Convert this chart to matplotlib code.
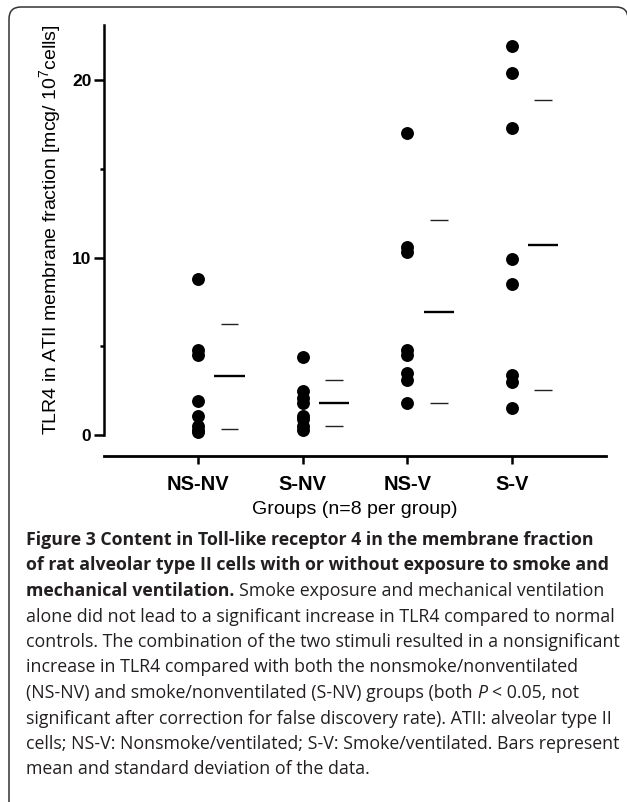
"""TLR4 in ATII membrane fraction - dot plot with mean and SD bars"""

import matplotlib.pyplot as plt
import numpy as np
from matplotlib.patches import FancyBboxPatch
from matplotlib.ticker import MultipleLocator

plt.rcParams['font.family'] = ['Liberation Sans', 'DejaVu Sans']
plt.rcParams['mathtext.fontset'] = 'custom'
plt.rcParams['mathtext.rm'] = 'Liberation Sans'
plt.rcParams['mathtext.default'] = 'regular'

# data
groups = ["NS-NV", "S-NV", "NS-V", "S-V"]
ns_nv = [8.8, 4.8, 4.5, 1.9, 1.1, 0.5, 0.3, 0.2]
s_nv = [4.4, 2.5, 2.1, 1.8, 1.1, 0.9, 0.5, 0.3]
ns_v = [17.0, 10.6, 10.3, 4.8, 4.5, 3.5, 3.1, 1.8]
s_v = [21.9, 20.4, 17.3, 9.9, 8.5, 3.4, 3.0, 1.5]
means = [3.3, 1.8, 6.95, 10.7]
sds = [2.95, 1.3, 5.15, 8.15]

caption = [
    [("Figure 3 Content in Toll-like receptor 4 in the membrane fraction", "bold", "normal")],
    [("of rat alveolar type II cells with or without exposure to smoke and", "bold", "normal")],
    [("mechanical ventilation.", "bold", "normal"),
     ("Smoke exposure and mechanical ventilation", "normal", "normal")],
    [("alone did not lead to a significant increase in TLR4 compared to normal", "normal", "normal")],
    [("controls. The combination of the two stimuli resulted in a nonsignificant", "normal", "normal")],
    [("increase in TLR4 compared with both the nonsmoke/nonventilated", "normal", "normal")],
    [("(NS-NV) and smoke/nonventilated (S-NV) groups (both", "normal", "normal"),
     ("P", "normal", "italic"),
     ("< 0.05, not", "normal", "normal")],
    [("significant after correction for false discovery rate). ATII: alveolar type II", "normal", "normal")],
    [("cells; NS-V: Nonsmoke/ventilated; S-V: Smoke/ventilated. Bars represent", "normal", "normal")],
    [("mean and standard deviation of the data.", "normal", "normal")],
]

W, H = 627, 802
fig = plt.figure(figsize=(W / 100, H / 100), dpi=100)

# rounded frame (only top and left edges are visible)
frame = FancyBboxPatch((0.09, -0.5), 6.27 - 0.08, 8.02 - 0.07 + 0.5,
                       boxstyle="round,pad=0,rounding_size=0.12",
                       transform=fig.dpi_scale_trans, fill=False,
                       edgecolor="#333333", linewidth=1.1)
fig.add_artist(frame)

ax = fig.add_axes([104 / W, 1 - 456 / H, (606 - 104) / W, (456 - 25) / H])
ax.set_xlim(0.1, 4.9)
ax.set_ylim(-1.18, 23.1)

for i, vals in enumerate([ns_nv, s_nv, ns_v, s_v]):
    x = i + 1
    ax.plot(np.full(len(vals), x), vals, "o", color="black", ms=9.3, mew=0)
    xm = x + 0.3
    ax.hlines(means[i], xm - 0.145, xm + 0.145, color="black", lw=1.7)
    ax.hlines([means[i] + sds[i], means[i] - sds[i]], xm - 0.085, xm + 0.085,
              color="#222222", lw=1.0)

ax.spines["top"].set_visible(False)
ax.spines["right"].set_visible(False)
ax.spines["left"].set_bounds(0, 23.1)
ax.spines["left"].set_linewidth(1.8)
ax.spines["bottom"].set_linewidth(2.0)

ax.set_yticks([0, 10, 20])
ax.yaxis.set_minor_locator(MultipleLocator(5))
ax.tick_params(axis="y", which="major", length=7, width=1.8, pad=2, labelsize=12.5)
ax.tick_params(axis="y", which="minor", length=3, width=1.8)
for lab in ax.get_yticklabels():
    lab.set_fontweight("bold")

ax.set_xticks([1, 2, 3, 4])
ax.set_xticklabels(groups, fontweight="bold", fontsize=14.5)
ax.tick_params(axis="x", length=5.5, width=1.8, pad=8)

fig.text(355 / W, 1 - 510 / H, "Groups (n=8 per group)", ha="center", va="center",
         fontsize=14)
fig.text(50 / W, 1 - 230 / H, "TLR4 in ATII membrane fraction [mcg/ 10$^{7}$cells]",
         rotation=90, ha="center", va="center", fontsize=14)

# caption, fitted to the width of the picture
cap_font = ["Open Sans", "DejaVu Sans"]
renderer = fig.canvas.get_renderer()


def text_width(s, size, weight="normal", style="normal"):
    t = fig.text(0, 0, s, fontsize=size, fontweight=weight, fontstyle=style, family=cap_font)
    w = t.get_window_extent(renderer).width
    t.remove()
    return w


cap_size = 10 * 588 / text_width(caption[3][0][0], 10)
space = text_width("a a", cap_size) - text_width("aa", cap_size)

for k, pieces in enumerate(caption):
    y = 1 - (540 + k * 25.5) / H
    x = 26
    for s, weight, style in pieces:
        fig.text(x / W, y, s, fontsize=cap_size, fontweight=weight, fontstyle=style,
                 family=cap_font, color="#231f20", va="center")
        x += text_width(s, cap_size, weight, style) + space

fig.savefig("out.png", dpi=100)
